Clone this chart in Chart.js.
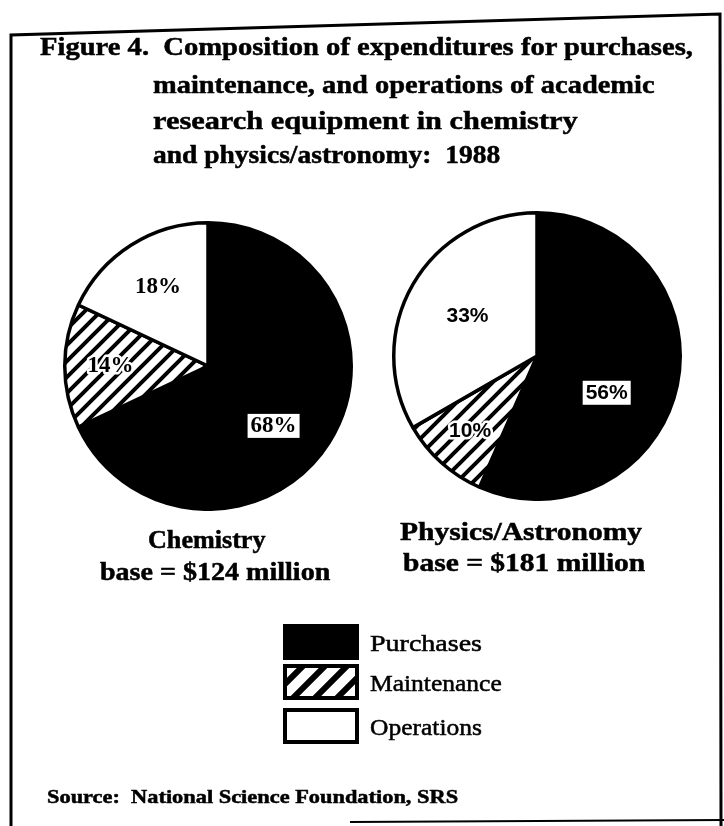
<!DOCTYPE html>
<html>
<head>
<meta charset="utf-8">
<script src="https://cdn.jsdelivr.net/npm/chart.js@4.4.0/dist/chart.umd.min.js"></script>
<style>
  html, body { margin: 0; padding: 0; background: #fff; }
  #page { position: relative; width: 724px; height: 826px; overflow: hidden; background: #fff; }
  #page canvas, #page .txt { position: absolute; }
  .txt { white-space: pre; color: #000; transform-origin: 0 50%; line-height: 1; -webkit-text-stroke: 0.5px #000; }
</style>
</head>
<body>
<div id="page">
  <canvas id="frame" width="724" height="826" style="left:0;top:0"></canvas>
  <canvas id="chemPie" width="290" height="290" style="left:63px;top:221px"></canvas>
  <canvas id="physPie" width="290" height="290" style="left:392px;top:211px"></canvas>
</div>
<script>
// data
var categories = ['Purchases', 'Maintenance', 'Operations'];
var chemistryPct = [68, 14, 18];
var physicsPct = [56, 10, 33];
var pieNames = ['Chemistry', 'Physics/Astronomy'];
var pieBases = ['base = $124 million', 'base = $181 million'];

var page = document.getElementById('page');

// text helper: squeeze/stretch a line so it spans x0..x1, centred on y
function put(text, x0, x1, y, font) {
    var el = document.createElement('div');
    el.className = 'txt';
    el.textContent = text;
    el.style.font = font;
    page.appendChild(el);
    var w = el.offsetWidth, h = el.offsetHeight;
    el.style.left = x0 + 'px';
    el.style.top = (y - h / 2) + 'px';
    el.style.transform = 'scaleX(' + ((x1 - x0) / w) + ')';
}

function hatch(size, lw) {
    var c = document.createElement('canvas');
    c.width = c.height = size;
    var g = c.getContext('2d');
    g.fillStyle = '#fff';
    g.fillRect(0, 0, size, size);
    g.strokeStyle = '#000';
    g.lineWidth = lw;
    g.beginPath();
    g.moveTo(0, size); g.lineTo(size, 0);
    g.moveTo(-size / 2, size / 2); g.lineTo(size / 2, -size / 2);
    g.moveTo(size / 2, size * 1.5); g.lineTo(size * 1.5, size / 2);
    g.stroke();
    return g.createPattern(c, 'repeat');
}

// frame
var f = document.getElementById('frame').getContext('2d');
f.strokeStyle = '#000';
f.lineWidth = 3;
f.beginPath();
f.moveTo(11, 826); f.lineTo(11, 35); f.lineTo(720, 14); f.lineTo(721, 826);
f.stroke();
f.lineWidth = 2;
f.beginPath();
f.moveTo(350, 822); f.lineTo(724, 820);
f.stroke();

// percentage labels inside the slices
var pctLabels = {
    id: 'pctLabels',
    afterDatasetsDraw: function (chart, args, opts) {
        var ctx = chart.ctx;
        var vals = chart.data.datasets[0].data;
        chart.getDatasetMeta(0).data.forEach(function (arc, i) {
            var p = arc.getProps(['x', 'y', 'startAngle', 'endAngle', 'outerRadius'], true);
            var a = (p.startAngle + p.endAngle) / 2 + opts.shift[i] * Math.PI / 180;
            var r = p.outerRadius * opts.radius[i];
            var x = p.x + Math.cos(a) * r, y = p.y + Math.sin(a) * r;
            var txt = vals[i] + '%';
            ctx.save();
            ctx.font = opts.font;
            ctx.textAlign = 'center';
            ctx.textBaseline = 'middle';
            var w = ctx.measureText(txt).width;
            if (i === 0) {
                ctx.fillStyle = '#fff';
                ctx.fillRect(x - w / 2 - 3, y - 12, w + 6, 24);
            } else if (i === 1) {
                ctx.strokeStyle = '#fff';
                ctx.lineWidth = 5;
                ctx.lineJoin = 'round';
                ctx.strokeText(txt, x, y);
            }
            ctx.fillStyle = '#000';
            ctx.fillText(txt, x, y);
            ctx.restore();
        });
    }
};

function makePie(id, values, labelOpts) {
    new Chart(document.getElementById(id), {
        type: 'pie',
        data: {
            labels: categories,
            datasets: [{
                data: values,
                backgroundColor: ['#000', hatch(16, 4), '#fff'],
                borderColor: '#000',
                borderWidth: 3.5
            }]
        },
        options: {
            responsive: false,
            animation: false,
            layout: { padding: 0 },
            plugins: {
                legend: { display: false },
                tooltip: { enabled: false },
                pctLabels: labelOpts
            }
        },
        plugins: [pctLabels]
    });
}

makePie('chemPie', chemistryPct, {
    font: 'bold 23px "Liberation Serif"',
    radius: [0.62, 0.68, 0.65],
    shift: [10, 0, 0]
});
makePie('physPie', physicsPct, {
    font: 'bold 21px "Liberation Sans"',
    radius: [0.55, 0.70, 0.56],
    shift: [16, 0, 0]
});

// title
var tf = 'bold 26px "Liberation Serif"';
put('Figure 4.  Composition of expenditures for purchases,', 40, 693, 47, tf);
put('maintenance, and operations of academic', 153, 655, 85, tf);
put('research equipment in chemistry', 153, 578, 121, tf);
put('and physics/astronomy:  1988', 153, 500, 155, tf);

// pie captions
var cf = 'bold 25px "Liberation Serif"';
put(pieNames[0], 148, 265, 540, cf);
put(pieBases[0], 100, 330, 572, cf);
put(pieNames[1], 400, 642, 532, cf);
put(pieBases[1], 403, 645, 563, cf);

// legend
var swatches = ['#000', hatch(22, 6), '#fff'];
var legendY = [642, 682, 726];
var legendEnd = [482, 502, 482];
categories.forEach(function (name, i) {
    var c = document.createElement('canvas');
    c.width = 76; c.height = 36;
    c.style.left = '283px';
    c.style.top = (legendY[i] - 18) + 'px';
    page.appendChild(c);
    var g = c.getContext('2d');
    g.fillStyle = swatches[i];
    g.fillRect(0, 0, 76, 36);
    g.strokeStyle = '#000';
    g.lineWidth = 4;
    g.strokeRect(2, 2, 72, 32);
    put(name, 370, legendEnd[i], legendY[i] + 2, '23px "Liberation Serif"');
});

// source note
put('Source:  National Science Foundation, SRS', 47, 458, 797, 'bold 19px "Liberation Serif"');
</script>
</body>
</html>
